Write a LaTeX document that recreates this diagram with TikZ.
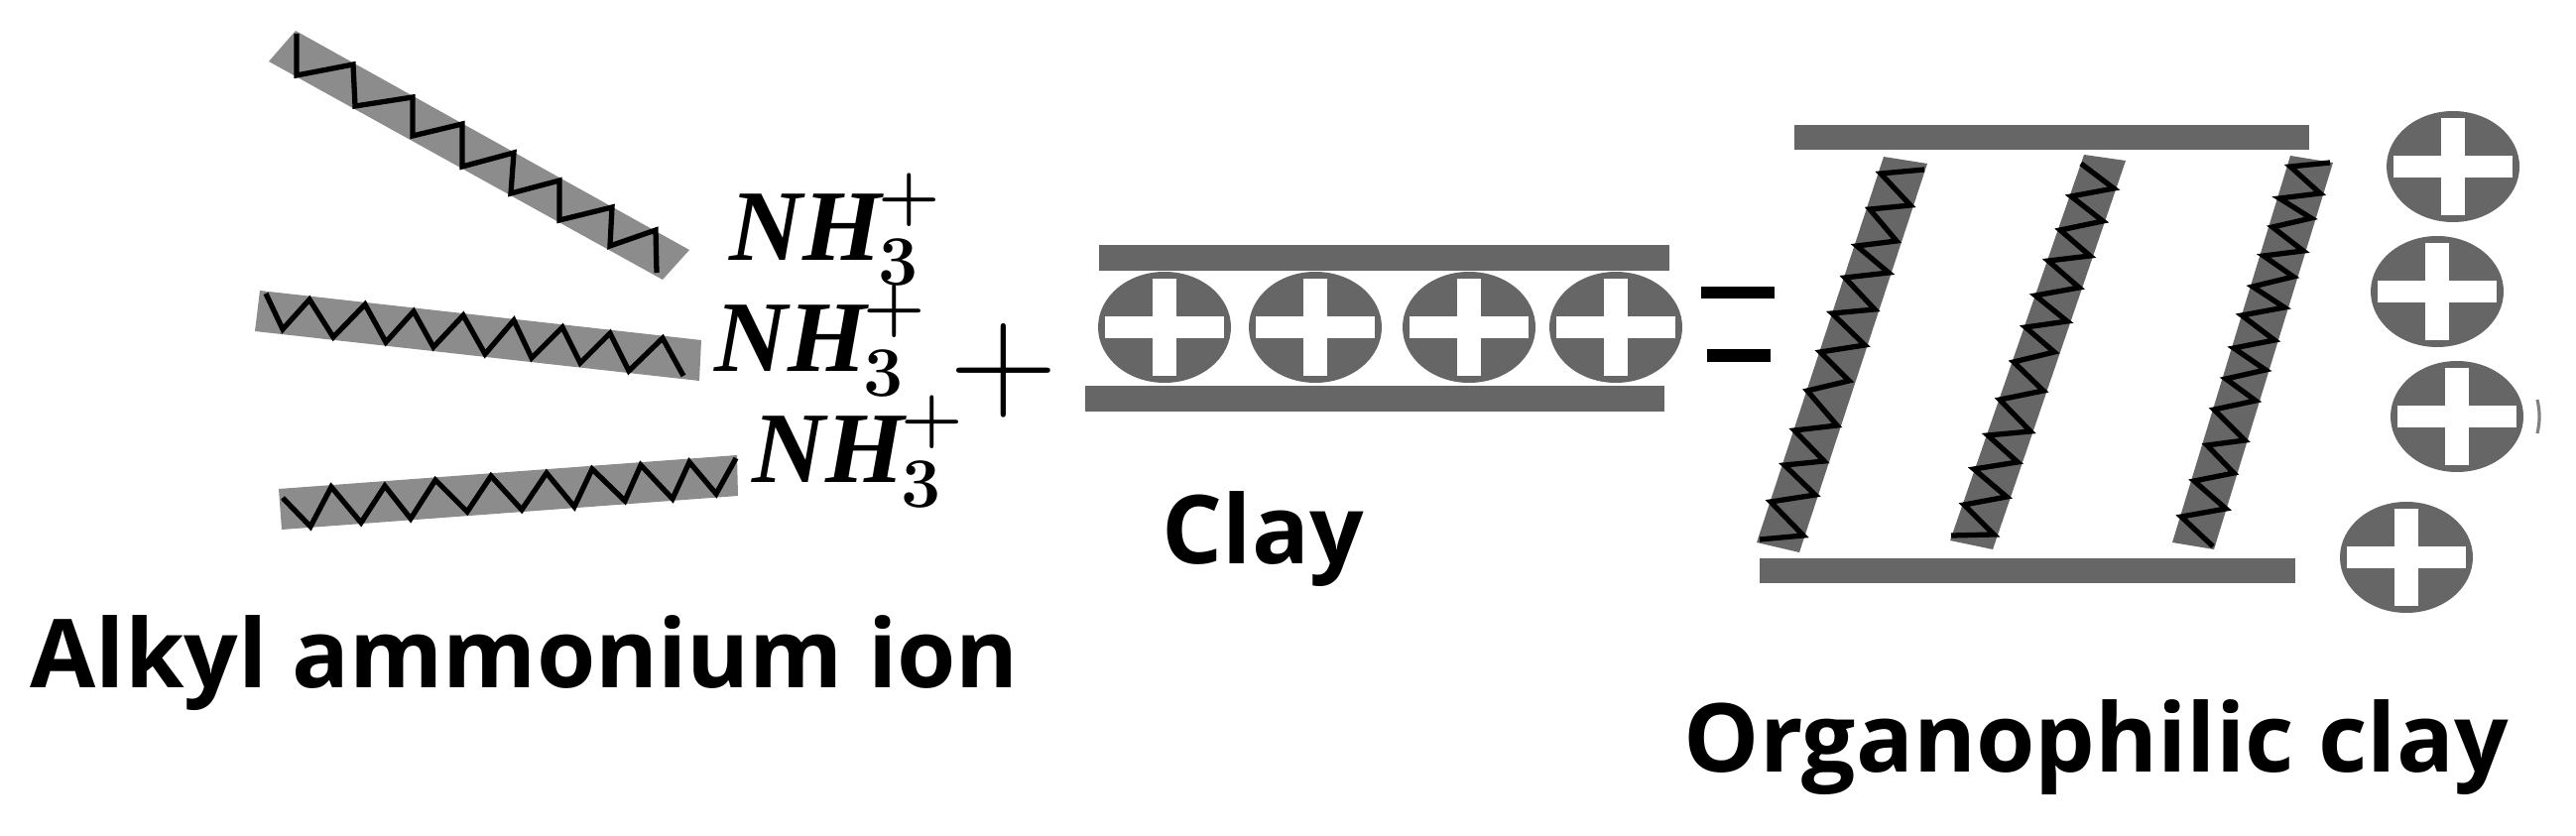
\documentclass[tikz,border=0pt]{standalone}
\usepackage{fix-cm}
\usepackage{fontspec}
\newfontfamily\captionfont{Open Sans}
\newfontfamily\aminefont{Liberation Serif}
\newcommand{\nhthree}{{\aminefont\bfseries\itshape NH}\kern-1pt\raisebox{1.9pt}{$_3^+$}}
\tikzset{
	chainbar/.style={fill=black!45},
	rodbar/.style={fill=black!60},
	zigzag/.style={draw=black,line width=1.5pt,line join=miter},
	platebar/.style={fill=black!60},
	ionball/.style={fill=black!60},
	ionmark/.style={fill=white},
	minusbar/.style={fill=black},
	amine/.style={inner sep=0pt,anchor=base west,font=\fontsize{29}{30}\selectfont\boldmath},
	caption/.style={inner sep=0pt,anchor=base west,font=\fontsize{27.3}{34}\selectfont\captionfont\bfseries},
}
\begin{document}
\begin{tikzpicture}[x=0.01cm,y=-0.01cm]
		\path[use as bounding box] (0,0) rectangle (2597,843);
		% alkyl chains
		\fill[chainbar] (298,31)--(271,62)--(668,282)--(695,252)--cycle;
		\draw[zigzag] (299,34)--(299,76)--(356,65)--(358,107)--(416,98)--(416,137)--(466,125)--(466,168)--(518,154)--(515,195)--(564,182)--(564,222)--(617,209)--(615,248)--(661,232)--(662,275);
		\fill[chainbar] (262,293)--(257,334)--(705,384)--(707,343)--cycle;
		\draw[zigzag] (268,296)--(285,332)--(312,302)--(336,340)--(368,307)--(389,345)--(417,314)--(437,350)--(467,318)--(489,357)--(518,323)--(536,361)--(567,330)--(585,366)--(615,336)--(634,374)--(668,341)--(689,379);
		\fill[chainbar] (281,493)--(284,534)--(744,500)--(743,459)--cycle;
		\draw[zigzag] (285,502)--(313,531)--(334,491)--(364,527)--(388,490)--(414,523)--(439,484)--(471,516)--(495,480)--(526,514)--(551,477)--(579,511)--(597,473)--(630,505)--(646,469)--(678,503)--(695,466)--(722,498)--(742,462);
		\node[amine] (nha) at (735,263) {\nhthree};
		\node[amine] (nhb) at (720,375) {\nhthree};
		\node[amine] (nhc) at (758,487) {\nhthree};
		\node[inner sep=0pt,font=\fontsize{43}{45}\selectfont] (plus) at (1012,374) {$+$};
		% clay layers
		\fill[platebar] (1108,247) rectangle (1683,273);
		\fill[platebar] (1094,389) rectangle (1678,415);
		\foreach \cx/\cy in {1174/330,1326/330,1481/330,1629/330,2473/168,2457/294,2477/420,2426/562}{
			\fill[ionball] (\cx,\cy) ellipse (67 and 56);
			\fill[ionmark] (\cx-60,\cy-11) rectangle (\cx+60,\cy+11);
			\fill[ionmark] (\cx-12,\cy-49) rectangle (\cx+12,\cy+49);
		}
		\fill[minusbar] (1715,289) rectangle (1789,301);
		\fill[minusbar] (1721,352) rectangle (1785,365);
		% organophilic clay
		\fill[platebar] (1809,126) rectangle (2328,151);
		\fill[platebar] (1774,563) rectangle (2314,588);
		\fill[rodbar] (1899,158)--(1943,165)--(1814,557)--(1771,547)--cycle;
		\draw[zigzag] (1940,171)--(1896,175)--(1926,207)--(1885,211)--(1912,243)--(1872,248)--(1904,275)--(1860,280)--(1890,312)--(1847,316)--(1880,348)--(1835,355)--(1864,384)--(1822,394)--(1852,429)--(1809,434)--(1839,465)--(1799,469)--(1830,499)--(1785,506)--(1818,540)--(1774,544);
		\fill[rodbar] (2101,156)--(2143,162)--(2009,554)--(1966,545)--cycle;
		\draw[zigzag] (2098,165)--(2131,190)--(2088,198)--(2120,223)--(2077,232)--(2107,258)--(2065,263)--(2096,290)--(2052,298)--(2084,324)--(2042,330)--(2071,355)--(2030,365)--(2060,394)--(2016,403)--(2047,435)--(2004,439)--(2034,466)--(1990,473)--(2023,501)--(1980,509)--(2010,539)--(1967,540);
		\fill[rodbar] (2309,157)--(2352,164)--(2232,554)--(2190,547)--cycle;
		\draw[zigzag] (2349,164)--(2309,168)--(2339,195)--(2298,200)--(2330,220)--(2291,229)--(2322,253)--(2282,258)--(2312,279)--(2271,289)--(2303,310)--(2260,318)--(2293,343)--(2252,351)--(2284,373)--(2244,382)--(2274,404)--(2232,413)--(2263,444)--(2225,449)--(2252,477)--(2212,485)--(2244,513)--(2199,521)--(2231,551);
		\draw[black!50,line width=0.9pt] (2558,403) to[bend left=12] (2558,437);
		\node[caption] (alkyl) at (30,693) {Alkyl ammonium ion};
		\node[caption] (clay) at (1171,568) {Clay};
		\node[caption] (organo) at (1697,778) {Organophilic clay};
\end{tikzpicture}
\end{document}
